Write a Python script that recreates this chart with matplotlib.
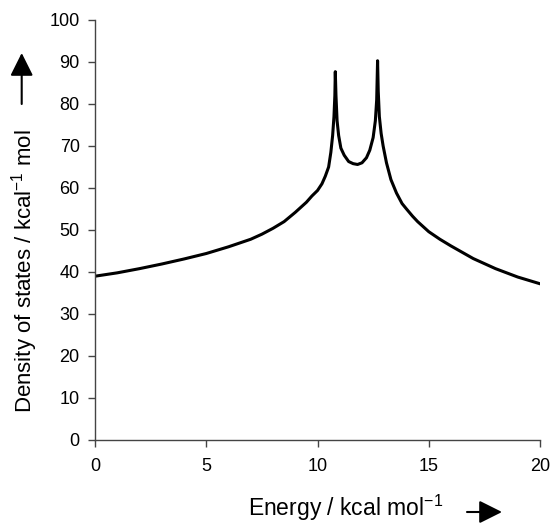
import matplotlib
matplotlib.use("Agg")
import matplotlib.pyplot as plt
from matplotlib.patches import FancyArrowPatch

plt.rcParams['font.family'] = ['Liberation Sans', 'DejaVu Sans']
plt.rcParams['mathtext.default'] = 'regular'

# curve
energy = [0, 1, 2, 3, 4, 5, 6, 7, 7.5, 8, 8.5, 9, 9.5, 9.75, 10, 10.2, 10.35, 10.5,
          10.6, 10.68, 10.74, 10.78, 10.8, 10.83, 10.88, 10.95, 11.05, 11.2, 11.4,
          11.6, 11.8, 12.0, 12.2, 12.35, 12.5, 12.6, 12.66, 12.7, 12.73, 12.78,
          12.86, 12.95, 13.1, 13.3, 13.55, 13.8, 14.0, 14.27, 14.5, 15, 15.5, 16,
          17, 18, 19, 20]
dos = [39, 39.8, 40.8, 41.9, 43.1, 44.4, 46, 47.8, 49, 50.4, 52, 54.2, 56.6, 58.1,
       59.4, 61, 62.8, 65, 68.5, 72.5, 77, 82, 87.7, 82, 76, 72.5, 69.5, 67.8,
       66.3, 65.8, 65.6, 66, 67.2, 69, 72, 76, 81, 90.3, 83, 77,
       73, 70, 66, 62, 58.8, 56.3, 55, 53.3, 52, 49.6, 47.8, 46.2,
       43.2, 40.8, 38.8, 37.2]

x_ticks = [0, 5, 10, 15, 20]
y_ticks = list(range(0, 101, 10))

fig = plt.figure(figsize=(5.52, 5.24), dpi=100)
ax = fig.add_axes([95 / 552, 1 - 440 / 524, 445 / 552, 420 / 524])

ax.plot(energy, dos, color='black', lw=2.2, solid_joinstyle='round')

ax.set_xlim(0, 20)
ax.set_ylim(0, 100)
ax.set_xticks(x_ticks)
ax.set_yticks(y_ticks)
for s in ['top', 'right']:
    ax.spines[s].set_visible(False)
for s in ['left', 'bottom']:
    ax.spines[s].set_color('#444444')
    ax.spines[s].set_linewidth(1.0)
ax.tick_params(axis='both', labelsize=13, length=5, color='#444444', width=1.0)
ax.tick_params(axis='y', pad=6)
ax.tick_params(axis='x', pad=8)

fig.text(25 / 552, 1 - 271 / 524, r'Density of states / kcal$^{-1}$ mol',
         rotation=90, ha='center', va='center', fontsize=16)
fig.text(346 / 552, 1 - 508 / 524, r'Energy / kcal mol$^{-1}$',
         ha='center', va='center', fontsize=16.5)

# arrows next to the axis labels
style = '-|>,head_length=14,head_width=7'
fig.add_artist(FancyArrowPatch(
    (21.7 / 552, 1 - 104 / 524), (21.7 / 552, 1 - 53 / 524),
    transform=fig.transFigure, arrowstyle=style,
    color='black', lw=1.5, mutation_scale=1, shrinkA=0, shrinkB=0))
fig.add_artist(FancyArrowPatch(
    (467 / 552, 1 - 512 / 524), (502 / 552, 1 - 512 / 524),
    transform=fig.transFigure, arrowstyle=style,
    color='black', lw=1.5, mutation_scale=1, shrinkA=0, shrinkB=0))

fig.savefig('out.png', dpi=100)
